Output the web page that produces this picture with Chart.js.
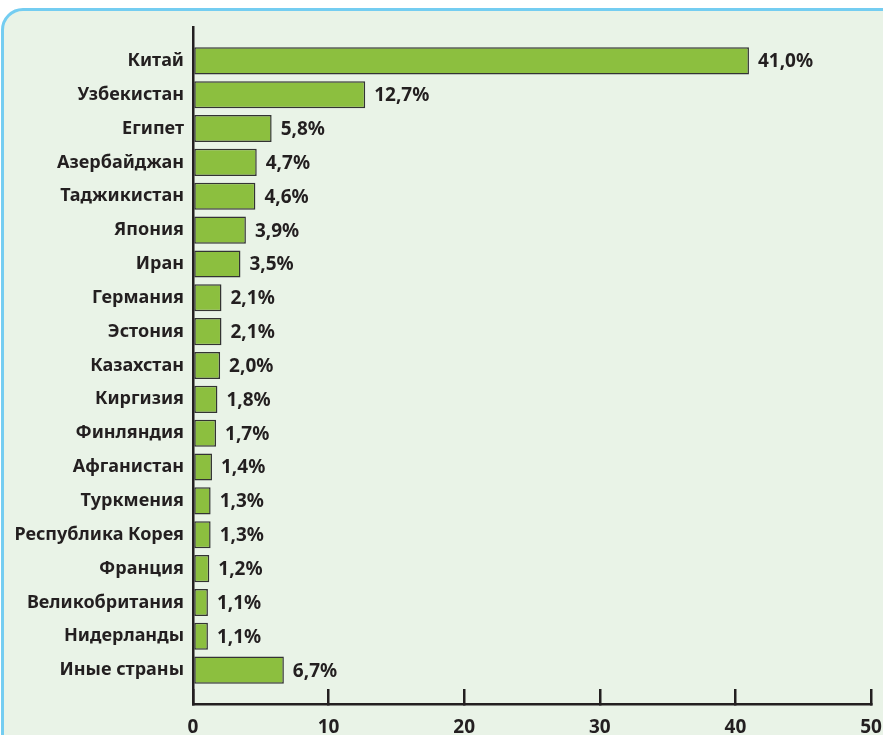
<!DOCTYPE html>
<html>
<head>
<meta charset="utf-8">
<script src="https://cdn.jsdelivr.net/npm/chart.js@4"></script>
<style>
  html, body { margin: 0; padding: 0; background: #ffffff; }
  body { width: 883px; height: 735px; position: relative; overflow: hidden; }
  #panel {
    position: absolute; left: 1px; top: 8px; width: 920px; height: 800px;
    border: 3px solid #74cdf1; border-radius: 22px; background: #e9f3e7;
    box-sizing: border-box;
  }
  #wrap { position: absolute; left: 0; top: 0; width: 883px; height: 735px; }
</style>
</head>
<body>
<div id="panel"></div>
<div id="wrap"><canvas id="c" width="883" height="735"></canvas></div>
<script>
const countries = ['Китай','Узбекистан','Египет','Азербайджан','Таджикистан','Япония','Иран','Германия','Эстония','Казахстан','Киргизия','Финляндия','Афганистан','Туркмения','Республика Корея','Франция','Великобритания','Нидерланды','Иные страны'];
const shares = [41.0, 12.7, 5.8, 4.7, 4.6, 3.9, 3.5, 2.1, 2.1, 2.0, 1.8, 1.7, 1.4, 1.3, 1.3, 1.2, 1.1, 1.1, 6.7];
const xTicks = [0, 10, 20, 30, 40, 50];

const FONT = "'Noto Sans', sans-serif";
const INK = '#231f20';

// one empty slot above and below the list
const labels = [''].concat(countries, ['']);
const values = [null].concat(shares, [null]);

const valueLabels = {
  id: 'valueLabels',
  afterDatasetsDraw(chart) {
    const ctx = chart.ctx;
    const meta = chart.getDatasetMeta(0);
    ctx.save();
    ctx.font = 'bold 19px ' + FONT;
    ctx.fillStyle = INK;
    ctx.textAlign = 'left';
    ctx.textBaseline = 'middle';
    meta.data.forEach((el, i) => {
      const v = values[i];
      if (v === null || v === undefined) return;
      ctx.fillText(v.toFixed(1).replace('.', ',') + '%', el.x + 9, el.y + 1);
    });
    ctx.restore();
  }
};

new Chart(document.getElementById('c'), {
  type: 'bar',
  data: {
    labels: labels,
    datasets: [{
      data: values,
      backgroundColor: '#8cbf3f',
      borderColor: '#333333',
      borderWidth: 1.5,
      borderSkipped: false,
      categoryPercentage: 1,
      barPercentage: 0.8
    }]
  },
  options: {
    indexAxis: 'y',
    responsive: false,
    animation: false,
    layout: { padding: { top: 27, right: 12, left: 0, bottom: 0 } },
    plugins: { legend: { display: false }, tooltip: { enabled: false } },
    scales: {
      x: {
        type: 'linear',
        min: 0, max: 50,
        afterBuildTicks(scale) { scale.ticks = xTicks.map(v => ({ value: v })); },
        afterFit(scale) { scale.height = 31; },
        border: { display: true, color: INK, width: 2.5 },
        grid: { display: true, drawOnChartArea: false, drawTicks: true, tickLength: -15, color: INK, lineWidth: 2.5 },
        ticks: { color: INK, font: { family: FONT, size: 19, weight: 'bold', lineHeight: '76px' }, padding: 1, maxRotation: 0 }
      },
      y: {
        type: 'category',
        offset: false,
        afterFit(scale) { scale.width = 193; },
        border: { display: true, color: INK, width: 2.5 },
        grid: { display: false, drawTicks: false },
        ticks: { color: INK, font: { family: FONT, size: 18, weight: 'bold' }, padding: 9, autoSkip: false }
      }
    }
  },
  plugins: [valueLabels]
});
</script>
</body>
</html>
